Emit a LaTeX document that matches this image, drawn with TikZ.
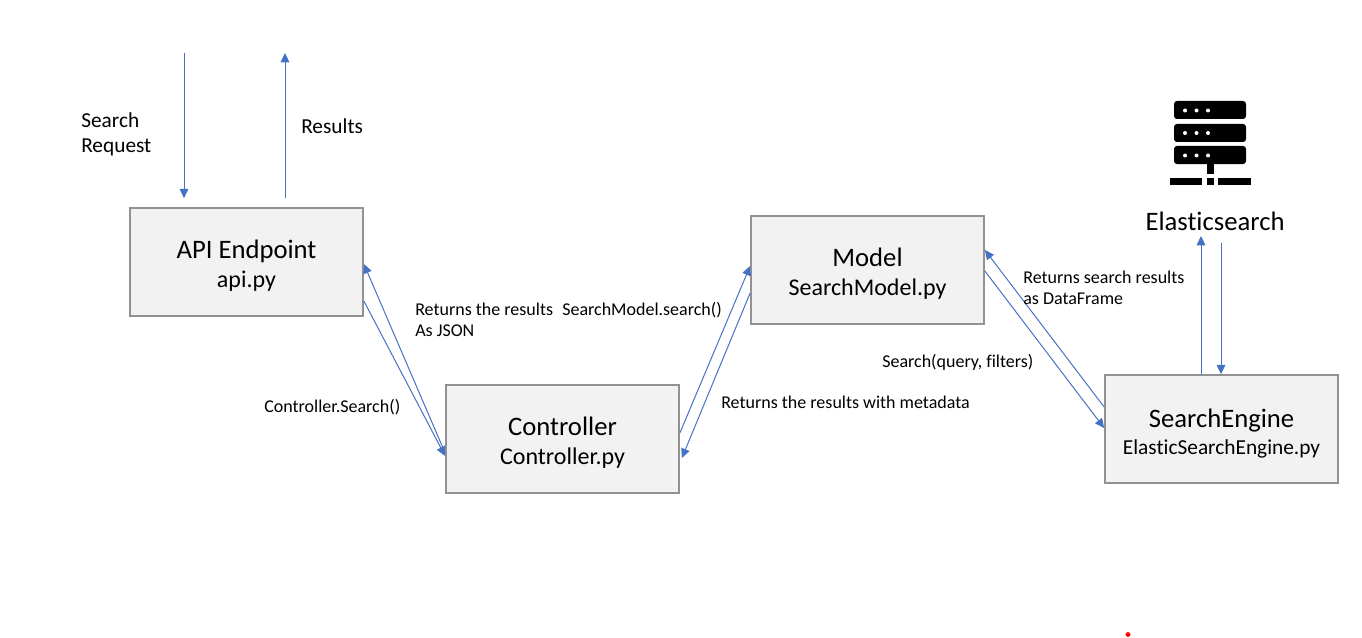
\documentclass[tikz,border=0pt]{standalone}
\usepackage{fontspec}
\setmainfont[Ligatures=CommonOff]{Carlito}
\usetikzlibrary{arrows.meta}
\definecolor{boxfill}{HTML}{F2F2F2}
\definecolor{boxline}{HTML}{929292}
\definecolor{flow}{HTML}{4472C4}
\tikzset{
  box/.style={draw=boxline,line width=1.3pt,fill=boxfill,minimum width=174.75pt,minimum height=81pt,inner sep=0pt,align=center,font=\fontsize{18}{21.75}\selectfont},
  flowline/.style={draw=flow,line width=0.75pt,-{Triangle[length=7pt,width=6.5pt]}},
  note/.style={inner sep=0pt,anchor=west,align=left,font=\fontsize{16}{18.75}\selectfont},
  notesmall/.style={inner sep=0pt,anchor=west,align=left,font=\fontsize{13.5}{15.75}\selectfont},
}
\newcommand{\bigtxt}[1]{{\fontsize{20}{23}\selectfont\rule{0pt}{18.8pt}#1}}
\begin{document}
\begin{tikzpicture}[x=0.75pt,y=-0.75pt]
\useasboundingbox (0,0) rectangle (1362,638);
\node[box] (api) at (246.5,262) {\bigtxt{API Endpoint}\\api.py};
\node[box] (ctrl) at (562.5,439) {\bigtxt{Controller}\\Controller.py};
\node[box] (model) at (867.5,270) {\bigtxt{Model}\\SearchModel.py};
\node[box,font=\fontsize{16}{20}\selectfont] (engine) at (1221.5,429) {{\fontsize{20}{23}\selectfont\rule{0pt}{21pt}SearchEngine}\\ElasticSearchEngine.py};
\node[inner sep=0pt,font=\fontsize{20}{23}\selectfont] (es) at (1215,221) {Elasticsearch};
% icon
\fill[black,rounded corners=2.2pt] (1174,101) rectangle (1246,119);
\fill[black,rounded corners=2.2pt] (1174,124) rectangle (1246,142);
\fill[black,rounded corners=2.2pt] (1174,146) rectangle (1246,164);
\foreach \yy in {110.5,133,155.5}{\foreach \xx in {1185,1196.5,1208}{\fill[white] (\xx,\yy) circle (1.5pt);}}
\fill[black] (1206.5,164) rectangle (1213.5,173.5);
\fill[black] (1169.5,178) rectangle (1202,184.5);
\fill[black] (1206.5,178) rectangle (1213.5,184.5);
\fill[black] (1218,178) rectangle (1250.5,184.5);
% free ends
\coordinate (reqstart) at (184,53);
\coordinate (resend) at (285,53);
% connectors
\draw[flowline] (reqstart) -- ([xshift=-46.875pt,yshift=6.75pt]api.north);
\draw[flowline] ([xshift=28.875pt,yshift=6.75pt]api.north) -- (resend);
\draw[flowline] ([yshift=-10.5pt]ctrl.west) -- ([yshift=-1.5pt]api.east);
\draw[flowline] ([yshift=-29.25pt]api.east) -- ([yshift=-12.75pt]ctrl.west);
\draw[flowline] ([yshift=4.5pt]ctrl.east) -- ([yshift=3pt]model.west);
\draw[flowline] ([yshift=-17.25pt]model.west) -- ([xshift=1.5pt,yshift=-14.25pt]ctrl.east);
\draw[flowline] ([yshift=-0.75pt]model.east) -- ([yshift=0.75pt]engine.west);
\draw[flowline] ([yshift=16.5pt]engine.west) -- ([yshift=15pt]model.east);
\draw[flowline] ([xshift=-15.375pt]engine.north) -- ([xshift=-10.5pt,yshift=-11.25pt]es.center);
\draw[flowline] ([xshift=4.5pt,yshift=-16.5pt]es.center) -- ([xshift=-0.375pt]engine.north);
% labels
\node[note] (lsearch) at (81,134) {Search\\Request};
\node[note] (lres) at (301,126) {Results};
\node[notesmall] (l1) at (415,320) {Returns the results\\As JSON};
\node[notesmall] (l2) at (264,407) {Controller.Search()};
\node[notesmall] (l3) at (562,310) {SearchModel.search()};
\node[notesmall] (l4) at (721,402) {Returns the results with metadata};
\node[notesmall] (l5) at (882,362) {Search(query, filters)};
\node[notesmall] (l6) at (1023,288) {Returns search results\\as DataFrame};
\fill[red] (1128,634.5) circle (1.8pt);
\end{tikzpicture}
\end{document}
